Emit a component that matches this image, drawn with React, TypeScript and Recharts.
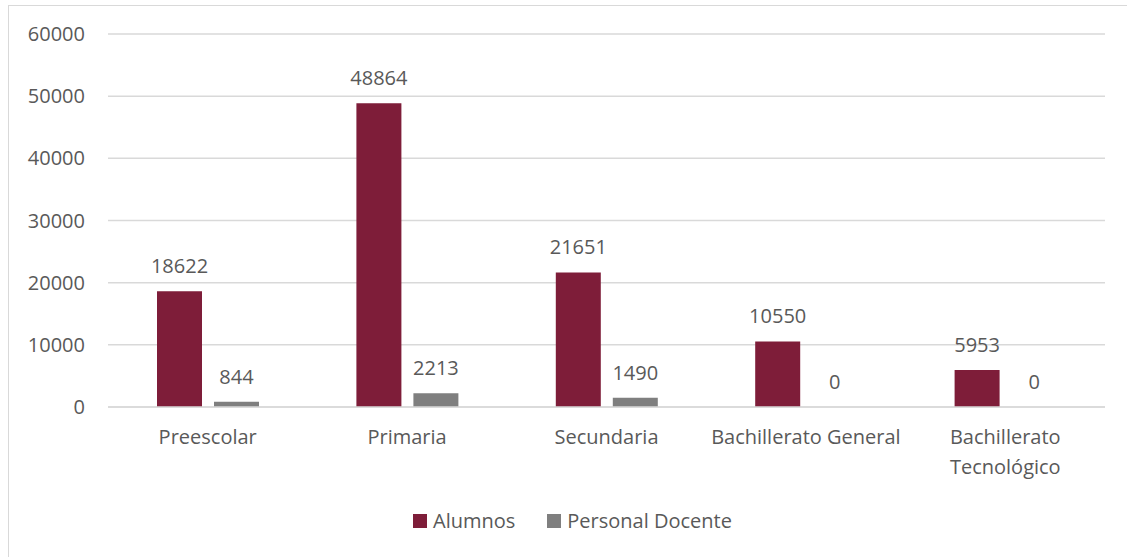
import { Bar, BarChart, CartesianGrid, LabelList, Legend, XAxis, YAxis } from "recharts";

const niveles = ["Preescolar", "Primaria", "Secundaria", "Bachillerato General", "Bachillerato Tecnológico"];
const alumnos = [18622, 48864, 21651, 10550, 5953];
const docentes = [844, 2213, 1490, 0, 0];
const yTicks = [0, 10000, 20000, 30000, 40000, 50000, 60000];

const data = niveles.map((name, i) => ({ name, alumnos: alumnos[i], docentes: docentes[i] }));

const FONT = "'Open Sans', sans-serif";
const TEXT = "#595959";
const MAROON = "#7E1D39";
const GRAY = "#7F7F7F";

// long category names go on two lines, like the original
function CategoryTick({ x, y, payload }: any) {
  const label: string = payload.value;
  const lines = label.length > 20 ? [label.slice(0, label.lastIndexOf(" ")), label.slice(label.lastIndexOf(" ") + 1)] : [label];
  return (
    <text x={x} y={y} textAnchor="middle" fill={TEXT} fontSize={20} fontFamily={FONT}>
      {lines.map((line, i) => (
        <tspan key={i} x={x} dy={i === 0 ? 14 : 30}>
          {line}
        </tspan>
      ))}
    </text>
  );
}

function ChartLegend() {
  const items = [
    { label: "Alumnos", color: MAROON },
    { label: "Personal Docente", color: GRAY },
  ];
  return (
    <div style={{ display: "flex", alignItems: "center", fontFamily: FONT, fontSize: 20, color: TEXT }}>
      {items.map((it, i) => (
        <div key={it.label} style={{ display: "flex", alignItems: "center", marginLeft: i ? 32 : 0 }}>
          <span style={{ width: 14, height: 14, background: it.color, marginRight: 6, display: "inline-block" }} />
          <span>{it.label}</span>
        </div>
      ))}
    </div>
  );
}

// keeps zero-valued bars in the layout so their "0" labels still show
const zeroSize = (v: number) => (v === 0 ? 0.01 : 0);

export default function App() {
  return (
    <div
      style={{
        position: "absolute",
        left: 8,
        top: 5,
        width: 1125,
        height: 560,
        border: "1px solid #d9d9d9",
        boxSizing: "border-box",
        background: "#fff",
      }}
    >
      <BarChart
        width={1123}
        height={558}
        data={data}
        margin={{ top: 28, right: 27, left: 0, bottom: 77 }}
        barSize={45}
        barGap={12}
      >
        <CartesianGrid vertical={false} stroke="#d9d9d9" strokeWidth={1.5} />
        <XAxis
          dataKey="name"
          height={80}
          axisLine={{ stroke: "#d9d9d9", strokeWidth: 1.5 }}
          tickLine={false}
          tickSize={0}
          tickMargin={23}
          interval={0}
          tick={<CategoryTick />}
        />
        <YAxis
          width={99}
          domain={[0, 60000]}
          ticks={yTicks}
          axisLine={false}
          tickLine={false}
          tickSize={0}
          tickMargin={23}
          tick={{ fontSize: 20, fill: TEXT, fontFamily: FONT }}
        />
        <Legend
          verticalAlign="middle"
          align="center"
          content={<ChartLegend />}
          wrapperStyle={{ left: 404, top: 501, width: "auto", height: "auto" }}
        />
        <Bar dataKey="alumnos" name="Alumnos" fill={MAROON} isAnimationActive={false}>
          <LabelList dataKey="alumnos" position="top" offset={18} fill={TEXT} fontSize={20} fontFamily={FONT} />
        </Bar>
        <Bar dataKey="docentes" name="Personal Docente" fill={GRAY} minPointSize={zeroSize} isAnimationActive={false}>
          <LabelList dataKey="docentes" position="top" offset={18} fill={TEXT} fontSize={20} fontFamily={FONT} />
        </Bar>
      </BarChart>
    </div>
  );
}
